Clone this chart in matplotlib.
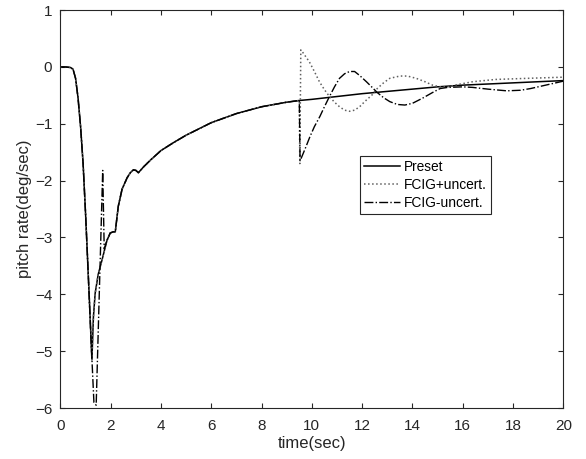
import numpy as np
import matplotlib
matplotlib.use("Agg")
import matplotlib.pyplot as plt

plt.rcParams['font.family'] = ['Liberation Sans', 'DejaVu Sans']

# Preset response
t_preset = [0, 0.2, 0.4, 0.5, 0.6, 0.7, 0.8, 0.9, 1.0, 1.1, 1.18, 1.25, 1.31, 1.38,
            1.5, 1.65, 1.85, 1.98, 2.1, 2.18, 2.3, 2.45, 2.65, 2.78, 2.9, 3.0, 3.1,
            3.3, 3.6, 4.0, 4.5, 5.0, 5.5, 6.0, 6.5, 7.0, 7.5, 8.0, 8.5, 9.0, 9.5,
            10, 11, 12, 13, 14, 15, 16, 17, 18, 19, 20]
y_preset = [0, 0, -0.01, -0.04, -0.2, -0.55, -1.05, -1.7, -2.6, -3.6, -4.4, -5.15, -4.4, -3.98,
            -3.65, -3.4, -3.05, -2.92, -2.9, -2.9, -2.45, -2.15, -1.95, -1.86, -1.81, -1.82, -1.86,
            -1.76, -1.63, -1.47, -1.33, -1.2, -1.09, -0.98, -0.9, -0.82, -0.76, -0.7, -0.66, -0.62, -0.59,
            -0.57, -0.52, -0.47, -0.43, -0.39, -0.35, -0.32, -0.3, -0.28, -0.26, -0.24]

# FCIG+uncert. : deviation after 9.5 s
t_plus = [9.5, 9.52, 9.56, 9.6, 9.9, 10.1, 10.3, 10.5, 10.7, 10.9, 11.1, 11.3, 11.5, 11.7,
          11.9, 12.1, 12.4, 12.6, 12.85, 13.1, 13.5, 13.8, 14.15, 14.5, 14.8, 15.1, 15.4,
          15.8, 16.4, 17.3, 18.6, 20]
y_plus = [-0.59, -1.7, 0.3, 0.28, 0.09, -0.08, -0.26, -0.4, -0.52, -0.62, -0.7, -0.76, -0.78, -0.76,
          -0.7, -0.61, -0.49, -0.38, -0.28, -0.2, -0.16, -0.16, -0.2, -0.26, -0.32, -0.35, -0.35,
          -0.31, -0.26, -0.22, -0.2, -0.18]

# FCIG-uncert. : spike near 1.4 s and deviation after 9.5 s
t_minus_a = [1.18, 1.33, 1.42, 1.68, 1.74]
y_minus_a = [-4.45, -5.9, -5.95, -1.82, -3.2]
t_minus_b = [9.5, 9.53, 9.6, 9.75, 9.92, 10.1, 10.32, 10.5, 10.7, 10.9, 11.1, 11.3, 11.5, 11.7,
             11.9, 12.17, 12.4, 12.6, 12.85, 13.1, 13.4, 13.7, 14.0, 14.4, 14.8, 15.1, 15.4,
             16.0, 16.4, 17.0, 17.75, 18.3, 18.7, 19.3, 20]
y_minus_b = [-0.59, -1.65, -1.58, -1.42, -1.23, -1.05, -0.87, -0.7, -0.52, -0.35, -0.2, -0.12, -0.08, -0.08,
             -0.15, -0.26, -0.36, -0.45, -0.54, -0.61, -0.66, -0.67, -0.64, -0.55, -0.45, -0.38, -0.36,
             -0.35, -0.36, -0.39, -0.42, -0.41, -0.38, -0.32, -0.25]

tp = np.array(t_preset)
yp = np.array(y_preset)

# both FCIG runs follow the preset response outside their deviations
t_fplus = np.concatenate([tp[tp < 9.5], t_plus])
y_fplus = np.concatenate([yp[tp < 9.5], y_plus])
t_fminus = np.concatenate([tp[tp < 1.18], t_minus_a, tp[(tp > 1.74) & (tp < 9.5)], t_minus_b])
y_fminus = np.concatenate([yp[tp < 1.18], y_minus_a, yp[(tp > 1.74) & (tp < 9.5)], y_minus_b])

fig = plt.figure(figsize=(5.86, 4.59), dpi=100)
ax = fig.add_axes([0.1032, 0.111, 0.858, 0.867])

ax.plot(tp, yp, color='black', linewidth=1.1, label='Preset')
ax.plot(t_fplus, y_fplus, color='#606060', linestyle=':', linewidth=1.1, label='FCIG+uncert.')
ax.plot(t_fminus, y_fminus, color='black', linestyle='-.', linewidth=1.0, label='FCIG-uncert.')

ax.set_xlim(0, 20)
ax.set_ylim(-6, 1)
ax.set_xticks(np.arange(0, 21, 2))
ax.set_yticks(np.arange(-6, 2, 1))
ax.tick_params(direction='in', top=True, right=True, length=3.6, width=0.8,
               labelsize=11, colors='#262626')
ax.tick_params(axis='x', pad=8)
ax.tick_params(axis='y', pad=6)
for s in ax.spines.values():
    s.set_color('#262626')
    s.set_linewidth(0.8)

ax.set_xlabel('time(sec)', fontsize=12, color='#262626', labelpad=2)
ax.set_ylabel('pitch rate(deg/sec)', fontsize=12, color='#262626', labelpad=2)

leg = ax.legend(loc='upper left', bbox_to_anchor=(0.596, 0.634), fontsize=9.9,
                frameon=True, fancybox=False, edgecolor='#262626', framealpha=1,
                borderpad=0.3, labelspacing=0.3, handlelength=2.6, handletextpad=0.3,
                borderaxespad=0)
leg.get_frame().set_linewidth(0.8)

fig.savefig('out.png', dpi=100)
